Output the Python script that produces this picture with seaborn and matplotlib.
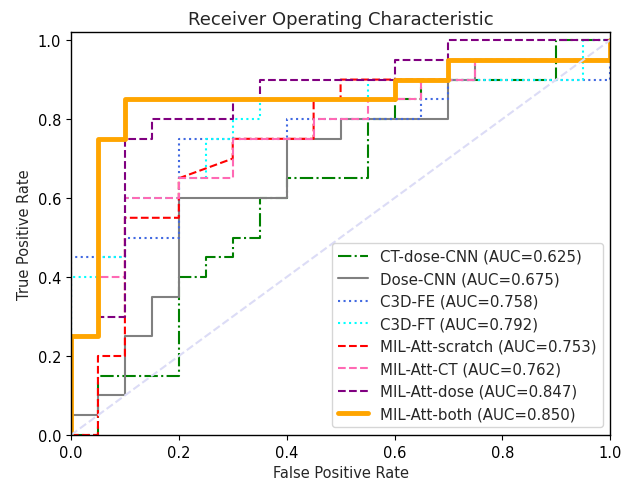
import matplotlib
matplotlib.use("Agg")
import matplotlib.pyplot as plt
import seaborn as sns
import pandas as pd

sns.set_style("ticks")
plt.rcParams['font.family'] = ['DejaVu Sans']

# ROC vertices (FPR, TPR)
ct_dose_cnn_fpr = [0, 0.05, 0.05, 0.2, 0.2, 0.25, 0.25, 0.3, 0.3, 0.35, 0.35, 0.4, 0.4, 0.55, 0.55, 0.6, 0.6, 0.65, 0.65, 0.9, 0.9, 1.0]
ct_dose_cnn_tpr = [0, 0, 0.15, 0.15, 0.4, 0.4, 0.45, 0.45, 0.5, 0.5, 0.6, 0.6, 0.65, 0.65, 0.8, 0.8, 0.85, 0.85, 0.9, 0.9, 1.0, 1.0]

dose_cnn_fpr = [0, 0, 0.05, 0.05, 0.1, 0.1, 0.15, 0.15, 0.2, 0.2, 0.4, 0.4, 0.5, 0.5, 0.7, 0.7, 0.75, 0.75, 1.0, 1.0]
dose_cnn_tpr = [0, 0.05, 0.05, 0.1, 0.1, 0.25, 0.25, 0.35, 0.35, 0.6, 0.6, 0.75, 0.75, 0.8, 0.8, 0.9, 0.9, 0.95, 0.95, 1.0]

c3d_fe_fpr = [0, 0, 0.1, 0.1, 0.2, 0.2, 0.4, 0.4, 0.65, 0.65, 0.7, 0.7, 1.0, 1.0]
c3d_fe_tpr = [0, 0.45, 0.45, 0.5, 0.5, 0.75, 0.75, 0.8, 0.8, 0.85, 0.85, 0.9, 0.9, 1.0]

c3d_ft_fpr = [0, 0, 0.05, 0.05, 0.1, 0.1, 0.2, 0.2, 0.25, 0.25, 0.3, 0.3, 0.35, 0.35, 0.55, 0.55, 0.95, 0.95, 1.0]
c3d_ft_tpr = [0, 0.4, 0.4, 0.45, 0.45, 0.6, 0.6, 0.65, 0.65, 0.75, 0.75, 0.8, 0.8, 0.85, 0.85, 0.9, 0.9, 1.0, 1.0]

mil_scratch_fpr = [0, 0.05, 0.05, 0.1, 0.1, 0.2, 0.2, 0.3, 0.3, 0.45, 0.45, 0.5, 0.5, 0.7, 0.7, 1.0, 1.0]
mil_scratch_tpr = [0, 0, 0.2, 0.2, 0.55, 0.55, 0.65, 0.7, 0.75, 0.75, 0.85, 0.85, 0.9, 0.9, 0.95, 0.95, 1.0]

mil_ct_fpr = [0, 0, 0.05, 0.05, 0.1, 0.1, 0.2, 0.2, 0.3, 0.3, 0.45, 0.45, 0.55, 0.55, 0.65, 0.65, 0.75, 0.75, 1.0, 1.0]
mil_ct_tpr = [0, 0.25, 0.25, 0.4, 0.4, 0.6, 0.6, 0.65, 0.65, 0.75, 0.75, 0.8, 0.8, 0.85, 0.85, 0.9, 0.9, 0.95, 0.95, 1.0]

mil_dose_fpr = [0, 0, 0.05, 0.05, 0.1, 0.1, 0.15, 0.15, 0.3, 0.3, 0.35, 0.35, 0.6, 0.6, 0.7, 0.7, 1.0]
mil_dose_tpr = [0, 0.25, 0.25, 0.3, 0.3, 0.75, 0.75, 0.8, 0.8, 0.85, 0.85, 0.9, 0.9, 0.95, 0.95, 1.0, 1.0]

mil_both_fpr = [0, 0, 0.05, 0.05, 0.1, 0.1, 0.6, 0.6, 0.7, 0.7, 1.0, 1.0]
mil_both_tpr = [0, 0.25, 0.25, 0.75, 0.75, 0.85, 0.85, 0.9, 0.9, 0.95, 0.95, 1.0]

model_names = ["CT-dose-CNN", "Dose-CNN", "C3D-FE", "C3D-FT",
               "MIL-Att-scratch", "MIL-Att-CT", "MIL-Att-dose", "MIL-Att-both"]
auc_values = [0.625, 0.675, 0.758, 0.792, 0.753, 0.762, 0.847, 0.850]
fpr_list = [ct_dose_cnn_fpr, dose_cnn_fpr, c3d_fe_fpr, c3d_ft_fpr,
            mil_scratch_fpr, mil_ct_fpr, mil_dose_fpr, mil_both_fpr]
tpr_list = [ct_dose_cnn_tpr, dose_cnn_tpr, c3d_fe_tpr, c3d_ft_tpr,
            mil_scratch_tpr, mil_ct_tpr, mil_dose_tpr, mil_both_tpr]

colors = ["green", "grey", "royalblue", "cyan", "red", "hotpink", "purple", "orange"]
styles = ["-.", "-", ":", ":", "--", "--", "--", "-"]
widths = [1.5, 1.5, 1.5, 1.5, 1.5, 1.5, 1.5, 3.5]

fig = plt.figure(figsize=(6.31, 4.81), dpi=100)
ax = fig.add_axes([0.1125, 0.0936, 0.8545, 0.8374])

for name, auc, fpr, tpr, c, ls, lw in zip(model_names, auc_values, fpr_list, tpr_list, colors, styles, widths):
    df = pd.DataFrame({"fpr": fpr, "tpr": tpr})
    sns.lineplot(data=df, x="fpr", y="tpr", sort=False, estimator=None,
                 color=c, linestyle=ls, linewidth=lw,
                 label=f"{name} (AUC={auc:.3f})", ax=ax)

diag = pd.DataFrame({"fpr": [0, 1], "tpr": [0, 1]})
sns.lineplot(data=diag, x="fpr", y="tpr", sort=False, estimator=None,
             color="#dcdcf6", linestyle="--", linewidth=1.5, ax=ax, legend=False)

ax.set_xlim(0, 1)
ax.set_ylim(0, 1.02)
ax.set_xticks([0, 0.2, 0.4, 0.6, 0.8, 1.0])
ax.set_yticks([0, 0.2, 0.4, 0.6, 0.8, 1.0])
ax.set_xlabel("False Positive Rate", fontsize=10.5)
ax.set_ylabel("True Positive Rate", fontsize=10.5)
ax.set_title("Receiver Operating Characteristic", fontsize=13)
for s in ax.spines.values():
    s.set_visible(True)
    s.set_color("black")
    s.set_linewidth(1.0)
ax.tick_params(direction="out", length=3.5, width=0.8, colors="black", labelsize=10.5)
ax.legend(loc="lower right", fontsize=10.8, frameon=True)

fig.savefig("out.png", dpi=100)
